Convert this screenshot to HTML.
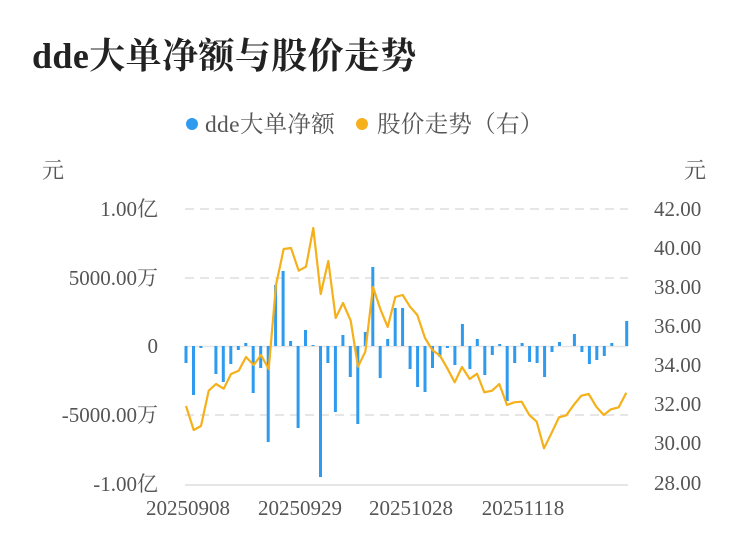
<!DOCTYPE html>
<html><head><meta charset="utf-8"><style>body{margin:0;background:#fff}svg{display:block}text{font-family:"Liberation Serif","Noto Serif CJK SC","Noto Sans CJK SC",serif}</style></head><body>
<svg width="750" height="558" viewBox="0 0 750 558" xmlns="http://www.w3.org/2000/svg">
<text x="32" y="68" font-size="36" font-weight="bold" fill="#222" letter-spacing="0.4">dde大单净额与股价走势</text>
<circle cx="192" cy="124" r="6" fill="#2e9bef"/>
<text x="205" y="132" font-size="23.5" fill="#555" letter-spacing="0.3">dde大单净额</text>
<circle cx="362" cy="124" r="6" fill="#f5b01a"/>
<text x="377" y="132" font-size="23.5" fill="#555" letter-spacing="0.3">股价走势（右）</text>
<text x="42" y="178" font-size="22" fill="#555">元</text>
<text x="684" y="178" font-size="22" fill="#555">元</text>
<g stroke="#e6e6e6" stroke-width="2" stroke-dasharray="9,6">
<line x1="185" y1="209" x2="628" y2="209"/><line x1="185" y1="278" x2="628" y2="278"/><line x1="185" y1="415" x2="628" y2="415"/></g>
<line x1="185" y1="346.5" x2="628" y2="346.5" stroke="#e6e6e6" stroke-width="1.5"/>
<line x1="185" y1="485" x2="628" y2="485" stroke="#e6e6e6" stroke-width="2"/>
<g font-size="21" fill="#555" text-anchor="end">
<text x="158" y="216">1.00亿</text><text x="158" y="285">5000.00万</text><text x="158" y="353">0</text><text x="158" y="422">-5000.00万</text><text x="158" y="491">-1.00亿</text></g>
<g font-size="21" fill="#555">
<text x="654" y="216">42.00</text><text x="654" y="255">40.00</text><text x="654" y="294">38.00</text><text x="654" y="333">36.00</text><text x="654" y="372">34.00</text><text x="654" y="411">32.00</text><text x="654" y="450">30.00</text><text x="654" y="490">28.00</text></g>
<g font-size="21" fill="#555" text-anchor="middle">
<text x="188" y="515">20250908</text><text x="300" y="515">20250929</text><text x="411" y="515">20251028</text><text x="523" y="515">20251118</text></g>
<g id="bars" fill="#2e9bef"></g>
<polyline fill="none" stroke="#f5b01a" stroke-width="2.2" stroke-linejoin="round" points="186,406 193.7,430 201,426 208.7,390.7 216,384 223.7,388.7 231,374 238.7,370.7 246,357 253.7,365 261,355 268.7,369 276,285 283.7,249 291,248 298.7,270.7 306,266.7 313.3,228 320.7,294 328.3,261 335.7,318 343,303 350.7,320.7 358,366.7 365.3,351.7 373,287 380.3,309 387.7,327 395.3,297 402.7,295 410,306.7 417.3,315 425,338 432.3,350 440,355.7 447.3,368.3 454.7,382.3 462,367 469.7,379 477,373.7 484.3,392.3 492,390.7 499.3,384 507,405 514.3,402.3 521.7,401.7 529.3,415 536.7,421.7 544,448.3 551.7,432.7 559,417.3 566.3,415.3 573.7,405 581.3,395.7 588.7,394 596.3,406.7 603.7,415 611,409.3 618.7,407.3 626.3,392.7"/>
</svg>
<script>
var v=[363,395,348,346,374,382,364,350,343,393,368,442,285,271,341,428,330,345,477,363,412,335,377,424,332,267,378,339,308,308,369,387,392,368,357,348,365,324,369,339,375,355,344,401,363,343,362,363,377,352,342,346,334,352,364,360,356,343,346,321];
var g=document.getElementById('bars'),s='';
for(var i=0;i<v.length;i++){var x=186+i*7.47-1.5,y0=346,y=v[i];var t=Math.min(y,y0),h=Math.abs(y-y0);if(h<1)continue;s+='<rect x="'+x.toFixed(1)+'" y="'+t+'" width="3" height="'+h+'"/>';}
g.innerHTML=s;
</script>
</body></html>
